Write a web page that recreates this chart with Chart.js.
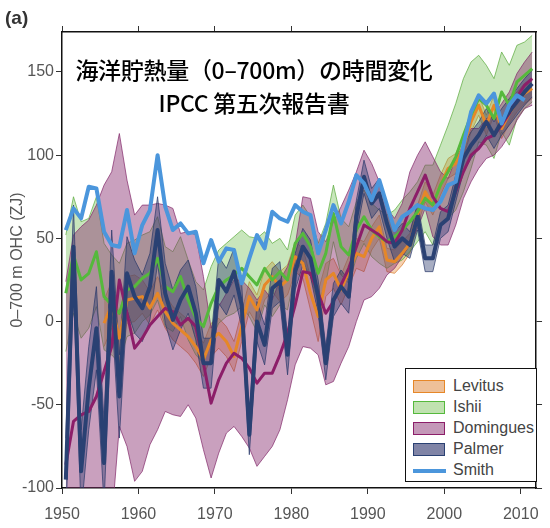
<!DOCTYPE html>
<html>
<head>
<meta charset="utf-8">
<script src="https://cdn.jsdelivr.net/npm/chart.js@4.4.1/dist/chart.umd.min.js"></script>
<style>
  body { margin: 0; background: #fff; }
  #wrap { position: relative; width: 550px; height: 528px; }
  #panel { position: absolute; left: 5px; top: 7px; font: bold 19px "Liberation Sans", Arial, sans-serif; color: #333; }
  #title { position: absolute; left: 62px; width: 384px; top: 53px; text-align: center;
    font-family: "Noto Sans CJK JP", sans-serif; font-size: 23px; font-weight: 500; line-height: 33px; color: #000; letter-spacing: -0.3px; }
  #legend { position: absolute; left: 405px; top: 368px; width: 132px; height: 114px;
    border: 1.5px solid #111; background: #fff; box-sizing: border-box; }
  .row { position: absolute; left: 7px; height: 20px; font: 16px "Liberation Sans", Arial, sans-serif; color: #444; }
  .sw { position: absolute; left: 0; top: 3px; width: 30px; height: 11px; border: 1.5px solid; }
  .row span.t { position: absolute; left: 40px; top: 0; white-space: nowrap; }
</style>
</head>
<body>
<div id="wrap">
  <canvas id="myChart" width="550" height="528"></canvas>
  <div id="panel">(a)</div>
  <div id="title">海洋貯熱量（0–700m）の時間変化<br>IPCC 第五次報告書</div>
  <div id="legend"></div>
</div>
<script>
"use strict";

const years = [1950, 1951, 1952, 1953, 1954, 1955, 1956, 1957, 1958, 1959,
  1960, 1961, 1962, 1963, 1964, 1965, 1966, 1967, 1968, 1969,
  1970, 1971, 1972, 1973, 1974, 1975, 1976, 1977, 1978, 1979,
  1980, 1981, 1982, 1983, 1984, 1985, 1986, 1987, 1988, 1989,
  1990, 1991, 1992, 1993, 1994, 1995, 1996, 1997, 1998, 1999,
  2000, 2001, 2002, 2003, 2004, 2005, 2006, 2007, 2008, 2009,
  2010, 2011];

const levitus = [null, null, null, null, null, -1, 10, -10, 13, 14,
  15, 8, 17, 6, -1, -5, -9, -15, -23, -11,
  -7, -12, -21, -3, 15, 7, 22, 27, 21, 25,
  39, 35, 17, 3, 25, 29, 19, 30, 41, 39,
  50, 57, 37, 36, 41, 47, 64, 78, 70, 82,
  92, 95, 105, 120, 130, 118, 130, 116, 125, 132,
  137, 140];
const levitusErr = [null, null, null, null, null, 14, 14, 14, 14, 14,
  10, 10, 10, 10, 10, 10, 10, 10, 10, 10,
  9, 9, 9, 9, 9, 9, 9, 9, 9, 9,
  9, 9, 10, 15, 10, 9, 9, 9, 9, 9,
  7, 7, 7, 7, 7, 6, 6, 6, 6, 6,
  6, 6, 6, 6, 6, 6, 6, 6, 6, 6,
  6, 6];

const ishii = [17, 40, 25, 29, 42, 15, 10, 5, 19, 21,
  26, 29, 38, 21, 18, 27, 13, 2, -3, 11,
  21, 25, 28, 32, 27, 22, 32, 25, 30, 25,
  47, 53, 45, 29, 41, 65, 45, 40, 55, 63,
  55, 51, 48, 51, 55, 60, 66, 74, 70, 82,
  90, 99, 112, 124, 134, 130, 122, 138, 130, 144,
  148, 152];
const ishiiErr = [35, 35, 35, 33, 33, 32, 30, 30, 28, 28,
  26, 25, 25, 24, 24, 24, 24, 22, 22, 22,
  22, 22, 23, 23, 24, 28, 22, 22, 20, 18,
  17, 17, 18, 18, 18, 17, 17, 17, 17, 16,
  16, 16, 16, 16, 18, 18, 18, 20, 24, 24,
  28, 32, 34, 32, 26, 24, 24, 24, 24, 22,
  20, 20];

const domingues = [-86, -60, -56, -54, -45, -30, -15, 25, 5, -16,
  -10, -2, 3, 8, 6, -2, 2, -3, -25, -49,
  -35, -25, -19, -22, -28, -37, -31, -31, -20, -7,
  10, 30, 29, 17, 5, 12, 22, 32, 45, 58,
  55, 52, 48, 47, 55, 68, 78, 88, 75, 68,
  66, 78, 90, 100, 104, 110, 112, 118, 125, 135,
  142, 146];
const dominguesErr = [110, 112, 113, 115, 115, 112, 105, 88, 80, 80,
  80, 72, 68, 62, 62, 55, 52, 55, 52, 45,
  44, 42, 44, 47, 48, 50, 50, 44, 45, 40,
  36, 45, 45, 37, 43, 48, 47, 47, 45, 45,
  40, 32, 20, 15, 16, 22, 22, 20, 24, 22,
  20, 20, 16, 16, 12, 12, 12, 13, 13, 14,
  14, 16];

const palmer = [-95, 45, -90, -40, -4, -85, 30, -45, 29, 15,
  8, 21, 55, 17, 1, 13, 21, 5, -25, -25,
  25, 18, 30, 10, -68, 0, -14, 20, 24, -20,
  30, 45, 38, 15, -25, 13, 21, 15, 63, 87,
  71, 77, 59, 45, 50, 46, 63, 38, 38, 58,
  62, 80, 98, 106, 112, 120, 112, 120, 126, 132,
  138, 143];
const palmerErr = [25, 25, 25, 25, 25, 25, 25, 25, 22, 22,
  20, 20, 20, 18, 18, 18, 16, 16, 15, 15,
  14, 14, 14, 13, 12, 12, 12, 12, 12, 12,
  11, 11, 11, 10, 10, 10, 10, 10, 10, 10,
  9, 9, 9, 9, 9, 8, 8, 8, 8, 8,
  8, 8, 8, 8, 8, 8, 8, 8, 8, 8,
  8, 8];

const smith = [55, 68, 62, 81, 80, 54, 46, 45, 67, 41,
  58, 67, 100, 69, 55, 59, 53, 54, 35, 49,
  36, 44, 43, 23, 38, 52, 44, 66, 62, 60,
  70, 66, 64, 41, 55, 70, 59, 72, 88, 83,
  73, 85, 70, 55, 63, 66, 70, 68, 67, 72,
  82, 84, 106, 126, 136, 131, 137, 119, 130, 136,
  133, null];

const xTicks = [1950, 1960, 1970, 1980, 1990, 2000, 2010];
const yTicks = [-100, -50, 0, 50, 100, 150];

const seriesStyle = [
  { name: "Levitus", mean: levitus, err: levitusErr, line: "rgb(230,135,40)", fill: "rgba(232,140,60,0.40)", edge: "rgba(215,120,40,0.7)", swFill: "rgb(238,192,152)", width: 3 },
  { name: "Ishii", mean: ishii, err: ishiiErr, line: "rgb(85,185,60)", fill: "rgba(110,190,80,0.38)", edge: "rgba(90,170,60,0.7)", swFill: "rgb(192,226,176)", width: 3 },
  { name: "Domingues", mean: domingues, err: dominguesErr, line: "rgb(140,30,105)", fill: "rgba(135,45,110,0.45)", edge: "rgba(130,40,105,0.7)", swFill: "rgb(196,152,184)", width: 3 },
  { name: "Palmer", mean: palmer, err: palmerErr, line: "rgb(42,65,115)", fill: "rgba(45,60,110,0.42)", edge: "rgba(40,55,105,0.7)", swFill: "rgb(128,132,166)", width: 4 },
];

// annual means sit in the middle of each year
function points(vals) {
  const out = [];
  for (let i = 0; i < years.length; i++) {
    if (vals[i] !== null) out.push({ x: years[i] + 0.5, y: vals[i] });
  }
  return out;
}

function offset(mean, err, sign) {
  return mean.map((v, i) => (v === null ? null : v + sign * err[i]));
}

const datasets = [];

// bands first
for (let i = 0; i < seriesStyle.length; i++) {
  let s = seriesStyle[i];
  datasets.push({
    data: points(offset(s.mean, s.err, 1)),
    borderColor: s.edge, borderWidth: 1, pointRadius: 0, fill: false,
    order: 20 - i * 2,
  });
  datasets.push({
    data: points(offset(s.mean, s.err, -1)),
    borderColor: s.edge, borderWidth: 1, pointRadius: 0,
    fill: "-1", backgroundColor: s.fill,
    order: 20 - i * 2,
  });
}

// then the mean lines
for (let i = 0; i < seriesStyle.length; i++) {
  let s = seriesStyle[i];
  datasets.push({
    label: s.name,
    data: points(s.mean),
    borderColor: s.line, borderWidth: s.width, pointRadius: 0, fill: false,
    borderJoinStyle: "round",
    order: 8 - i,
  });
}
datasets.push({
  label: "Smith",
  data: points(smith),
  borderColor: "rgb(75,150,220)", borderWidth: 4, pointRadius: 0, fill: false,
  borderJoinStyle: "round",
  order: 0,
});

Chart.defaults.font.family = "'Liberation Sans', Arial, sans-serif";

const gridOpts = { drawOnChartArea: false, drawTicks: true, tickLength: 6, color: "#333", lineWidth: 1 };
const borderOpts = { display: true, color: "#111", width: 1.5 };

function setX(scale) { scale.ticks = xTicks.map(v => ({ value: v })); }
function setY(scale) { scale.ticks = yTicks.map(v => ({ value: v })); }

const config = {
  type: "line",
  data: { datasets: datasets },
  options: {
    responsive: false,
    animation: false,
    layout: { padding: 0 },
    plugins: { legend: { display: false }, tooltip: { enabled: false } },
    elements: { line: { tension: 0 } },
    scales: {
      x: {
        type: "linear", position: "bottom", min: 1950, max: 2012,
        afterBuildTicks: setX,
        afterFit: (s) => { s.height = 40; },
        grid: gridOpts, border: borderOpts,
        ticks: { color: "#555", font: { size: 16 }, padding: 11, maxRotation: 0, callback: (v) => String(v) },
      },
      x2: {
        type: "linear", position: "top", min: 1950, max: 2012,
        afterBuildTicks: setX,
        afterFit: (s) => { s.height = 32; },
        grid: gridOpts, border: borderOpts,
        ticks: { display: false },
      },
      y: {
        type: "linear", position: "left", min: -100, max: 174,
        afterBuildTicks: setY,
        afterFit: (s) => { s.width = 62; },
        grid: gridOpts, border: borderOpts,
        ticks: { color: "#555", font: { size: 16 }, padding: 2 },
        title: { display: true, text: "0–700 m OHC (ZJ)", color: "#555", font: { size: 16 }, padding: { top: 8, bottom: 0 } },
      },
      y2: {
        type: "linear", position: "right", min: -100, max: 174,
        afterBuildTicks: setY,
        afterFit: (s) => { s.width = 7; },
        grid: gridOpts, border: borderOpts,
        ticks: { display: false },
      },
    },
  },
};

new Chart(document.getElementById("myChart"), config);

// legend box inside the plot, bottom right
let legend = document.getElementById("legend");
let rowTop = 8;
for (let i = 0; i < seriesStyle.length; i++) {
  let s = seriesStyle[i];
  let row = document.createElement("div");
  row.className = "row";
  row.style.top = rowTop + i * 21 + "px";
  row.innerHTML = '<div class="sw" style="background:' + s.swFill + ';border-color:' + s.line + '"></div><span class="t">' + s.name + "</span>";
  legend.appendChild(row);
}
let smithRow = document.createElement("div");
smithRow.className = "row";
smithRow.style.top = rowTop + 4 * 21 + "px";
smithRow.innerHTML = '<div style="position:absolute;left:0;top:8px;width:33px;height:4px;background:rgb(75,150,220)"></div><span class="t">Smith</span>';
legend.appendChild(smithRow);
</script>
</body>
</html>
